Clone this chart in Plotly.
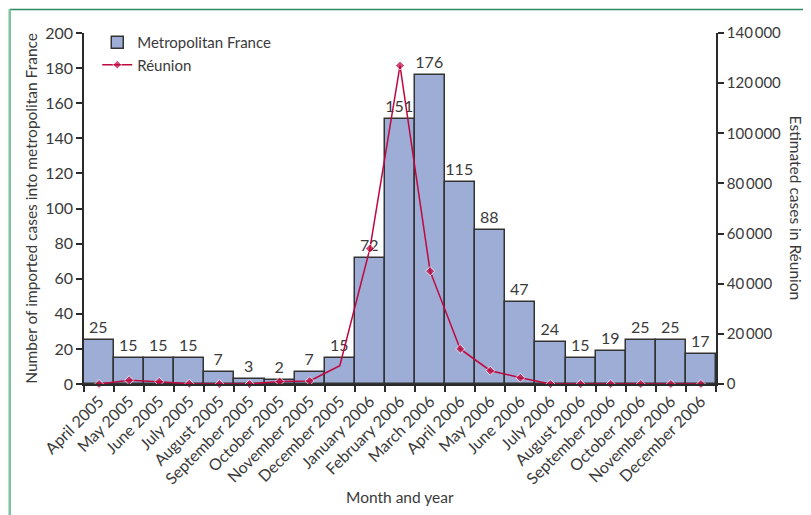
import plotly.graph_objects as go

months = ["April 2005", "May 2005", "June 2005", "July 2005", "August 2005",
          "September 2005", "October 2005", "November 2005", "December 2005",
          "January 2006", "February 2006", "March 2006", "April 2006", "May 2006",
          "June 2006", "July 2006", "August 2006", "September 2006",
          "October 2006", "November 2006", "December 2006"]
metro_cases = [25, 15, 15, 15, 7, 3, 2, 7, 15, 72, 151, 176, 115, 88, 47, 24, 15, 19, 25, 25, 17]
reunion_cases = [0, 1500, 900, 100, 0, 0, 1000, 1200, 7300, 54000, 127000, 45000,
                 14000, 5300, 2500, 0, 0, 0, 0, 0, 0]
# December 2005 point has no marker in the original
reunion_marker_size = [7, 7, 7, 7, 7, 7, 7, 7, 0, 7, 7, 7, 7, 7, 7, 7, 7, 7, 7, 7, 7]

left_ticks = [0, 20, 40, 60, 80, 100, 120, 140, 160, 180, 200]
right_ticks = [0, 20000, 40000, 60000, 80000, 100000, 120000, 140000]
right_ticktext = ["0", "20\u2009000", "40\u2009000", "60\u2009000", "80\u2009000",
                  "100\u2009000", "120\u2009000", "140\u2009000"]

FONT = "Lato"
TXT = "#3a3a3a"
AX = "#2b2b2b"

fig = go.Figure()
fig.add_trace(go.Bar(
    x=months, y=metro_cases, name="Metropolitan France",
    marker=dict(color="#9dadd5", line=dict(color="#333333", width=1.5)),
    text=[str(v) for v in metro_cases], textposition="outside",
    textfont=dict(family=FONT, size=16, color=TXT), cliponaxis=False,
))
fig.add_trace(go.Scatter(
    x=months, y=reunion_cases, name="Réunion", yaxis="y2",
    mode="lines+markers",
    line=dict(color="#c0073f", width=1.5),
    marker=dict(symbol="diamond", size=reunion_marker_size, color="#c0073f"),
    cliponaxis=False,
))

fig.update_layout(
    width=803, height=507,
    margin=dict(l=76, r=95, t=25, b=131, autoexpand=False),
    paper_bgcolor="white", plot_bgcolor="white",
    bargap=0,
    font=dict(family=FONT, size=14, color=TXT),
    showlegend=True,
    legend=dict(x=0.021, y=1.02, xanchor="left", yanchor="top",
                bgcolor="rgba(0,0,0,0)", font=dict(size=15, color=TXT),
                tracegroupgap=2, itemwidth=30),
    xaxis=dict(
        type="category", showgrid=False, showline=True, linecolor=AX, linewidth=1.5,
        ticks="outside", tickson="boundaries", ticklen=6, tickcolor=AX, tickwidth=1.5,
        tickangle=-45, tickfont=dict(family=FONT, size=16, color=TXT),
        range=[-0.5, 20.5], automargin=False,
    ),
    yaxis=dict(
        range=[0, 200], tickvals=left_ticks, showgrid=False, zeroline=False,
        showline=True, linecolor=AX, linewidth=1.5,
        ticks="outside", ticklen=6, tickcolor=AX, tickwidth=1.5,
        tickfont=dict(family=FONT, size=16, color=TXT), automargin=False,
    ),
    yaxis2=dict(
        range=[0, 140000], overlaying="y", side="right",
        tickvals=right_ticks, ticktext=right_ticktext, showgrid=False, zeroline=False,
        showline=True, linecolor=AX, linewidth=1.5,
        ticks="outside", ticklen=6, tickcolor=AX, tickwidth=1.5,
        tickfont=dict(family=FONT, size=15, color=TXT), automargin=False,
    ),
    annotations=[
        dict(text="Number of imported cases into metropolitan France", xref="paper", yref="paper",
             x=-0.085, y=0.5, textangle=-90, showarrow=False,
             font=dict(family=FONT, size=15.5, color=TXT), xanchor="center", yanchor="middle"),
        dict(text="Estimated cases in Réunion", xref="paper", yref="paper",
             x=1.128, y=0.5, textangle=90, showarrow=False,
             font=dict(family=FONT, size=15.5, color=TXT), xanchor="center", yanchor="middle"),
        dict(text="Month and year", xref="paper", yref="paper",
             x=0.5, y=-0.322, showarrow=False,
             font=dict(family=FONT, size=15.5, color=TXT), xanchor="center", yanchor="middle"),
    ],
    shapes=[
        dict(type="line", xref="paper", yref="paper", x0=-0.118, x1=1.2, y0=1.067, y1=1.067,
             line=dict(color="#2f8a62", width=1.5)),
        dict(type="line", xref="paper", yref="paper", x0=-0.1175, x1=-0.1175, y0=1.067, y1=-0.4,
             line=dict(color="#7cc3a1", width=2.5)),
    ],
)

fig.write_html("out.html")
